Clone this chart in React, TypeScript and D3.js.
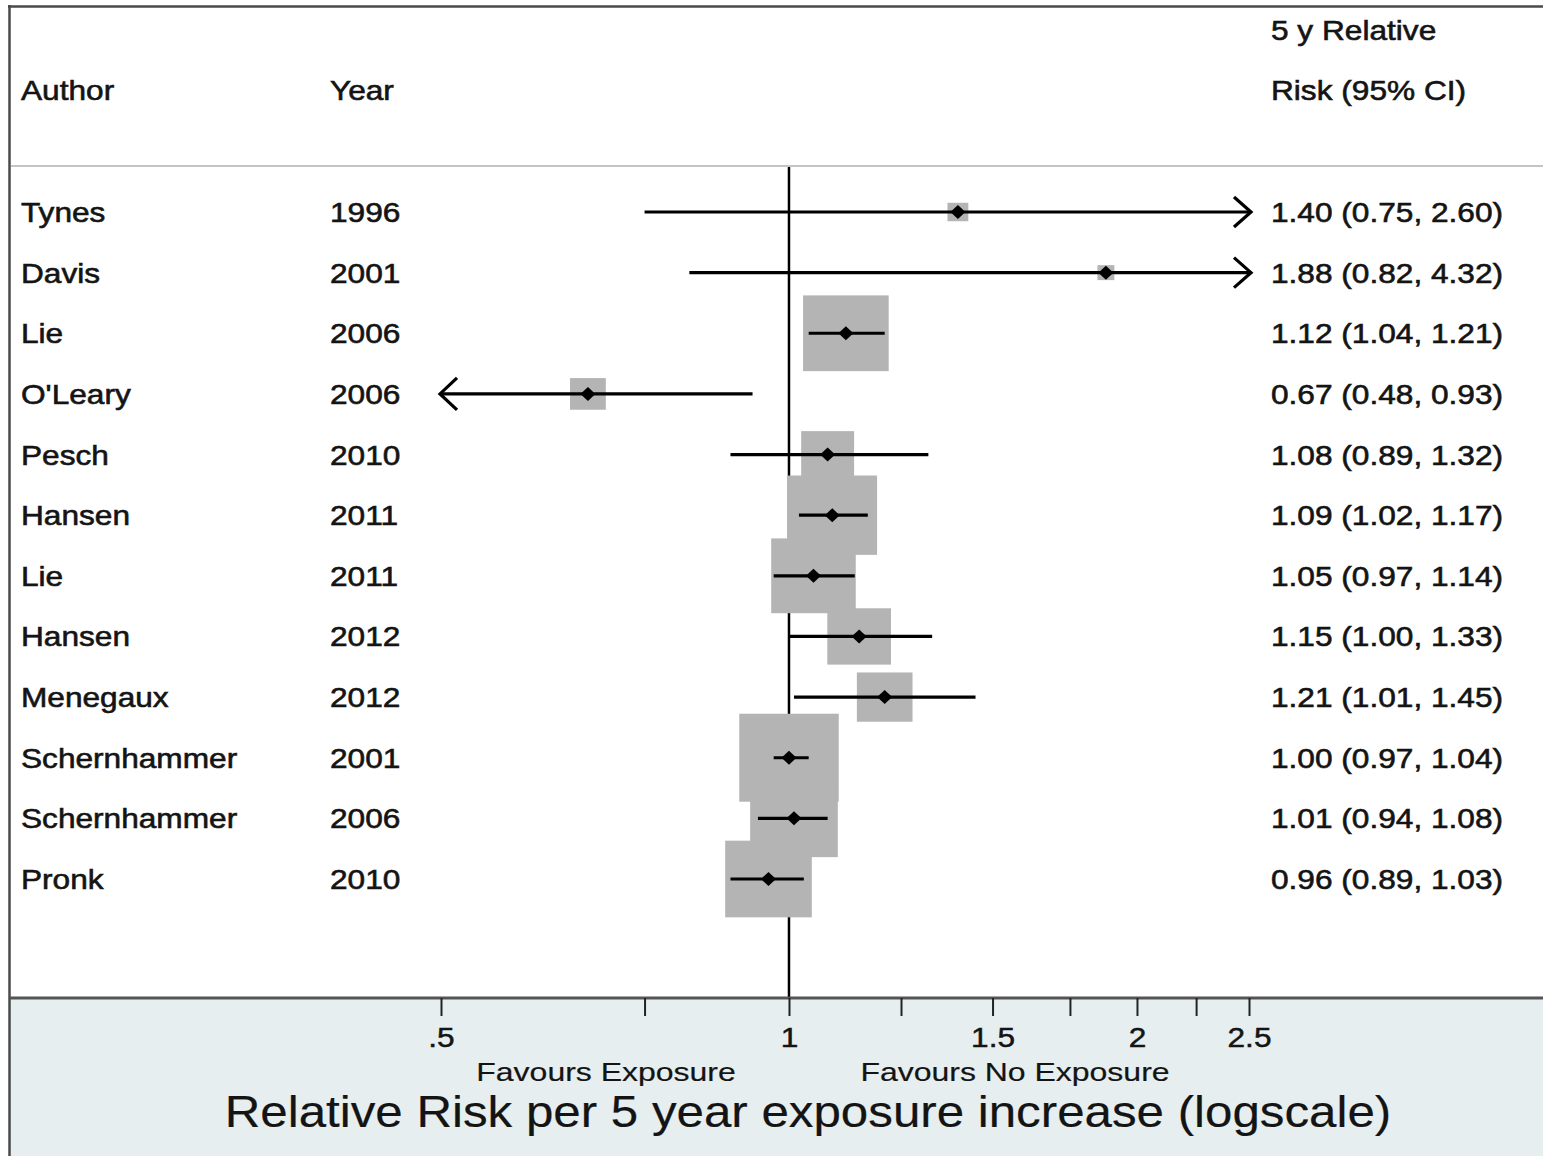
import React, { useEffect, useRef } from 'react';
import * as d3 from 'd3';

// study rows, top to bottom
const authors = ['Tynes', 'Davis', 'Lie', "O'Leary", 'Pesch', 'Hansen', 'Lie', 'Hansen', 'Menegaux', 'Schernhammer', 'Schernhammer', 'Pronk'];
const years = [1996, 2001, 2006, 2006, 2010, 2011, 2011, 2012, 2012, 2001, 2006, 2010];
const rr = [1.40, 1.88, 1.12, 0.67, 1.08, 1.09, 1.05, 1.15, 1.21, 1.00, 1.01, 0.96];
const lower = [0.75, 0.82, 1.04, 0.48, 0.89, 1.02, 0.97, 1.00, 1.01, 0.97, 0.94, 0.89];
const upper = [2.60, 4.32, 1.21, 0.93, 1.32, 1.17, 1.14, 1.33, 1.45, 1.04, 1.08, 1.03];
// study weights (%)
const weights = [0.73, 0.48, 12.3, 2.15, 4.7, 13.5, 12.0, 6.8, 5.2, 16.6, 12.9, 12.6];

const tickValues = [0.5, 0.75, 1, 1.25, 1.5, 1.75, 2, 2.25, 2.5];
const tickLabels: Record<string, string> = { '0.5': '.5', '1': '1', '1.5': '1.5', '2': '2', '2.5': '2.5' };

const W = 1543;
const H = 1156;
const SX = 1.13; // the original is stretched horizontally
const FONT = '"Liberation Sans", Arial, Helvetica, sans-serif';
const INK = '#141414';

const ForestPlot = () => {
  const svgRef = useRef<SVGSVGElement | null>(null);

  useEffect(() => {
    const svg = d3.select(svgRef.current);
    svg.selectAll('*').remove();

    const axisY = 998;
    const headerY = 166;

    const x = d3.scaleLog().domain([0.5, 2.5]).range([441, 1249]);
    const y = d3.scalePoint<number>().domain(d3.range(authors.length)).range([212, 879]);
    const box = d3.scaleSqrt().domain([0, 16.6]).range([0, 88]);

    // pinned text helper, stretched like the original
    const label = (tx: number, ty: number, s: string, size: number, anchor = 'start', sx = SX, heavy = 0.6) =>
      svg.append('text')
        .attr('transform', `translate(${tx},${ty}) scale(${sx},1)`)
        .attr('text-anchor', anchor)
        .style('font-family', FONT)
        .style('font-size', `${size}px`)
        .style('fill', INK)
        .style('stroke', INK)
        .style('stroke-width', heavy)
        .text(s);

    // bottom panel background
    svg.append('rect')
      .attr('x', 10).attr('y', axisY)
      .attr('width', W - 10).attr('height', H - axisY)
      .style('fill', '#e7eef0');

    // outer frame
    svg.append('line').attr('x1', 8).attr('x2', W).attr('y1', 6.5).attr('y2', 6.5)
      .style('stroke', '#4a4a4a').style('stroke-width', 2.5);
    svg.append('line').attr('x1', 9.5).attr('x2', 9.5).attr('y1', 5).attr('y2', H)
      .style('stroke', '#4a4a4a').style('stroke-width', 2.5);

    // header separator
    svg.append('line').attr('x1', 11).attr('x2', W).attr('y1', headerY).attr('y2', headerY)
      .style('stroke', '#c4c4c4').style('stroke-width', 2);

    // header
    label(21, 100, 'Author', 28);
    label(330, 100, 'Year', 28);
    label(1271, 40, '5 y Relative', 28);
    label(1271, 100, 'Risk (95% CI)', 28);

    // null line
    svg.append('line')
      .attr('x1', x(1)).attr('x2', x(1))
      .attr('y1', headerY + 1).attr('y2', axisY)
      .style('stroke', '#000').style('stroke-width', 2.5);

    const idx = d3.range(authors.length);

    // weight boxes
    svg.selectAll('rect.box')
      .data(idx)
      .enter()
      .append('rect')
      .attr('class', 'box')
      .attr('x', i => x(rr[i]) - (box(weights[i]) * SX) / 2)
      .attr('y', i => (y(i) as number) - box(weights[i]) / 2)
      .attr('width', i => box(weights[i]) * SX)
      .attr('height', i => box(weights[i]))
      .style('fill', '#b4b4b4');

    // confidence intervals, clipped to the axis range
    const [dMin, dMax] = x.domain();
    svg.selectAll('line.ci')
      .data(idx)
      .enter()
      .append('line')
      .attr('class', 'ci')
      .attr('x1', i => x(Math.max(lower[i], dMin)))
      .attr('x2', i => x(Math.min(upper[i], dMax)))
      .attr('y1', i => y(i) as number)
      .attr('y2', i => y(i) as number)
      .style('stroke', '#000')
      .style('stroke-width', 3.2);

    // arrows where CI runs off the scale
    idx.forEach(i => {
      const cy = y(i) as number;
      if (upper[i] > dMax) {
        const tx = x(dMax) + 2;
        svg.append('path')
          .attr('d', `M${tx - 17},${cy - 15}L${tx},${cy}L${tx - 17},${cy + 15}`)
          .style('fill', 'none').style('stroke', '#000').style('stroke-width', 3.2);
      }
      if (lower[i] < dMin) {
        const tx = x(dMin) - 1;
        svg.append('path')
          .attr('d', `M${tx + 17},${cy - 16}L${tx},${cy}L${tx + 17},${cy + 16}`)
          .style('fill', 'none').style('stroke', '#000').style('stroke-width', 3.2);
      }
    });

    // point estimates
    svg.selectAll('path.pt')
      .data(idx)
      .enter()
      .append('path')
      .attr('class', 'pt')
      .attr('d', i => {
        const cx = x(rr[i]);
        const cy = y(i) as number;
        return `M${cx - 7.5},${cy}L${cx},${cy - 7}L${cx + 7.5},${cy}L${cx},${cy + 7}Z`;
      })
      .style('fill', '#000');

    // row texts
    idx.forEach(i => {
      const ty = (y(i) as number) + 10;
      label(21, ty, authors[i], 28);
      label(330, ty, String(years[i]), 28);
      label(1271, ty, `${rr[i].toFixed(2)} (${lower[i].toFixed(2)}, ${upper[i].toFixed(2)})`, 28);
    });

    // x axis
    svg.append('line').attr('x1', 10).attr('x2', W).attr('y1', axisY).attr('y2', axisY)
      .style('stroke', '#555').style('stroke-width', 3);

    const axis = svg.append('g')
      .attr('transform', `translate(0,${axisY})`)
      .call(
        d3.axisBottom(x)
          .tickValues(tickValues)
          .tickSize(18)
          .tickPadding(11)
          .tickFormat(d => tickLabels[String(d)] ?? '')
      );
    axis.select('.domain').remove();
    axis.selectAll('.tick line').style('stroke', '#222').style('stroke-width', 2);
    axis.selectAll('.tick text')
      .attr('transform', `scale(${SX},1)`)
      .style('font-family', FONT)
      .style('font-size', '28px')
      .style('fill', INK)
      .style('stroke', INK)
      .style('stroke-width', 0.5);

    label(606, 1081, 'Favours Exposure', 26, 'middle', 1.23, 0.2);
    label(1015, 1081, 'Favours No Exposure', 26, 'middle', 1.23, 0.2);
    label(808, 1127, 'Relative Risk per 5 year exposure increase (logscale)', 44, 'middle', 1.12, 0.2);
  }, []);

  return <svg ref={svgRef} width={W} height={H} viewBox={`0 0 ${W} ${H}`} style={{ display: 'block' }}></svg>;
};

const App = () => (
  <div style={{ position: 'absolute', left: 0, top: 0, background: '#fff' }}>
    <ForestPlot />
  </div>
);

export default App;
